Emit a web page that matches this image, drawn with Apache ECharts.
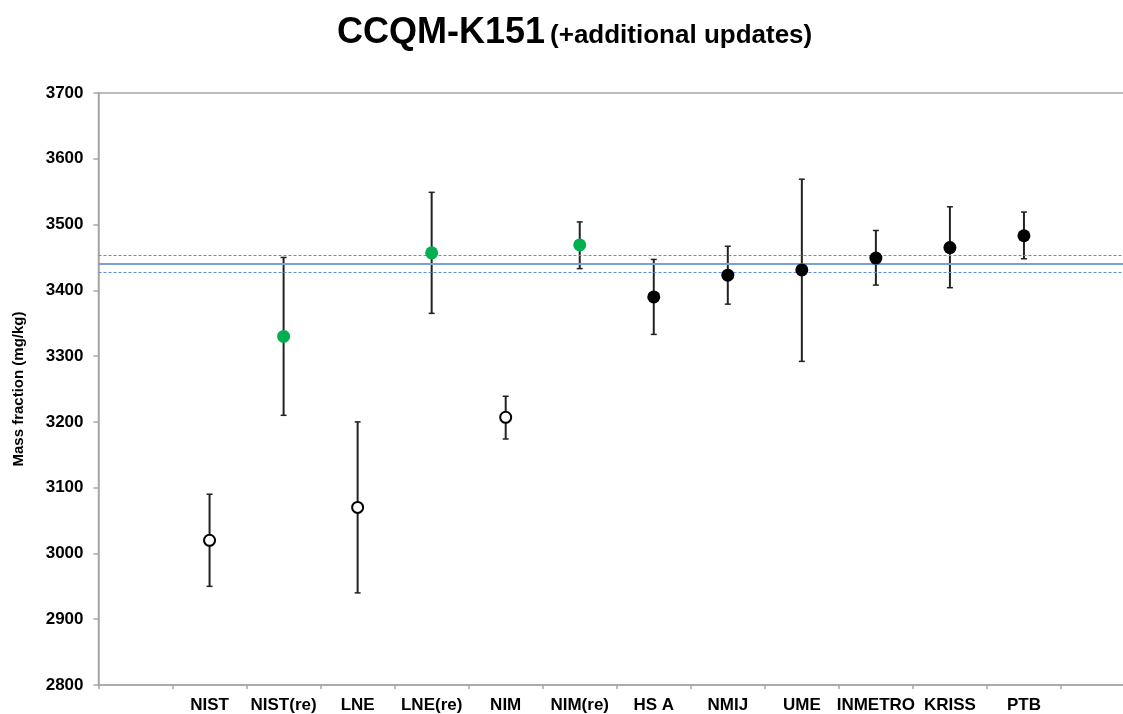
<!DOCTYPE html>
<html>
<head>
<meta charset="utf-8">
<script src="https://cdn.jsdelivr.net/npm/echarts@6/dist/echarts.min.js"></script>
<style>
html,body{margin:0;padding:0;background:#fff;}
#chart{width:1123px;height:714px;}
</style>
</head>
<body>
<div id="chart"></div>
<script>
// ---- data ----
const categories = ['', 'NIST', 'NIST(re)', 'LNE', 'LNE(re)', 'NIM', 'NIM(re)', 'HS A', 'NMIJ', 'UME', 'INMETRO', 'KRISS', 'PTB', ''];
const labs      = ['NIST', 'NIST(re)', 'LNE', 'LNE(re)', 'NIM', 'NIM(re)', 'HS A', 'NMIJ', 'UME', 'INMETRO', 'KRISS', 'PTB'];
const values    = [3020, 3330, 3070, 3457, 3207, 3469, 3390, 3423, 3431, 3449, 3465, 3483];
const lower     = [2950, 3210, 2940, 3365, 3174, 3433, 3333, 3379, 3292, 3408, 3404, 3448];
const upper     = [3090, 3450, 3200, 3549, 3239, 3504, 3447, 3467, 3569, 3491, 3527, 3519];
const kinds     = ['open', 'green', 'open', 'green', 'open', 'green', 'black', 'black', 'black', 'black', 'black', 'black'];
const kcrv = 3440;
const kcrvLow = 3427;
const kcrvHigh = 3453;
const yTicks = {min: 2800, max: 3700, interval: 100};

// ---- build ----
const errData = labs.map((l, i) => [l, lower[i], upper[i]]);
function pts(kind) {
  return labs.map((l, i) => kinds[i] === kind ? [l, values[i]] : null).filter(d => d);
}

const chart = echarts.init(document.getElementById('chart'), null, {renderer: 'canvas'});
const FONT = 'Liberation Sans, Arial, sans-serif';
chart.setOption({
  backgroundColor: '#fff',
  animation: false,
  title: {
    text: '{a|CCQM-K151} {b|(+additional updates)}',
    left: 332,
    top: 2,
    textStyle: {
      rich: {
        a: {fontFamily: FONT, fontWeight: 'bold', fontSize: 36, color: '#000', verticalAlign: 'bottom', lineHeight: 44},
        b: {fontFamily: FONT, fontWeight: 'bold', fontSize: 26, color: '#000', verticalAlign: 'bottom', lineHeight: 44, padding: [0, 0, 2, 0]}
      }
    }
  },
  grid: {
    left: 98.5, top: 93, right: -12, bottom: 29,
    outerBoundsMode: 'none', containLabel: false,
    show: true, borderColor: '#a6a6a6', borderWidth: 1.5, backgroundColor: 'transparent'
  },
  xAxis: {
    type: 'category',
    data: categories,
    axisLine: {lineStyle: {color: '#a6a6a6', width: 1.5}},
    axisTick: {show: true, length: 4, lineStyle: {color: '#a6a6a6', width: 1.5}},
    axisLabel: {fontFamily: FONT, fontWeight: 'bold', fontSize: 17, color: '#000', margin: 12, interval: 0},
    splitLine: {show: false}
  },
  yAxis: {
    type: 'value',
    min: yTicks.min, max: yTicks.max, interval: yTicks.interval,
    name: 'Mass fraction (mg/kg)',
    nameLocation: 'middle',
    nameGap: 72,
    nameTextStyle: {fontFamily: FONT, fontWeight: 'bold', fontSize: 15, color: '#000'},
    axisLine: {show: true, lineStyle: {color: '#a6a6a6', width: 1.5}},
    axisTick: {show: true, length: 5, lineStyle: {color: '#a6a6a6', width: 1.5}},
    axisLabel: {fontFamily: FONT, fontWeight: 'bold', fontSize: 17, color: '#000', margin: 15,
      formatter: v => String(v)},
    splitLine: {show: false}
  },
  series: [
    {
      type: 'line', data: [], z: 1, silent: true,
      markLine: {
        symbol: 'none', silent: true, label: {show: false},
        data: [
          {yAxis: kcrv, lineStyle: {color: '#7ba0d6', width: 2, type: 'solid'}},
          {yAxis: kcrvLow, lineStyle: {color: '#5b8fd6', width: 1, type: [3, 2]}},
          {yAxis: kcrvHigh, lineStyle: {color: '#5b8fd6', width: 1, type: [3, 2]}}
        ]
      }
    },
    {
      type: 'custom', z: 3, silent: true,
      data: errData,
      encode: {x: 0, y: [1, 2]},
      renderItem: function (params, api) {
        const lo = api.coord([api.value(0), api.value(1)]);
        const hi = api.coord([api.value(0), api.value(2)]);
        const cw = 3;
        const style = {stroke: '#222', lineWidth: 2};
        const capStyle = {stroke: '#222', lineWidth: 1.5};
        return {
          type: 'group',
          children: [
            {type: 'line', shape: {x1: lo[0], y1: lo[1], x2: hi[0], y2: hi[1]}, style: style},
            {type: 'line', shape: {x1: lo[0] - cw, y1: lo[1], x2: lo[0] + cw, y2: lo[1]}, style: capStyle},
            {type: 'line', shape: {x1: hi[0] - cw, y1: hi[1], x2: hi[0] + cw, y2: hi[1]}, style: capStyle}
          ]
        };
      }
    },
    {
      type: 'scatter', z: 5, symbol: 'circle', symbolSize: 11,
      data: pts('open'),
      itemStyle: {color: '#fff', borderColor: '#000', borderWidth: 2, opacity: 1}
    },
    {
      type: 'scatter', z: 5, symbol: 'circle', symbolSize: 13,
      data: pts('green'),
      itemStyle: {color: '#00b050', opacity: 1}
    },
    {
      type: 'scatter', z: 5, symbol: 'circle', symbolSize: 13,
      data: pts('black'),
      itemStyle: {color: '#000', opacity: 1}
    }
  ]
});
</script>
</body>
</html>
